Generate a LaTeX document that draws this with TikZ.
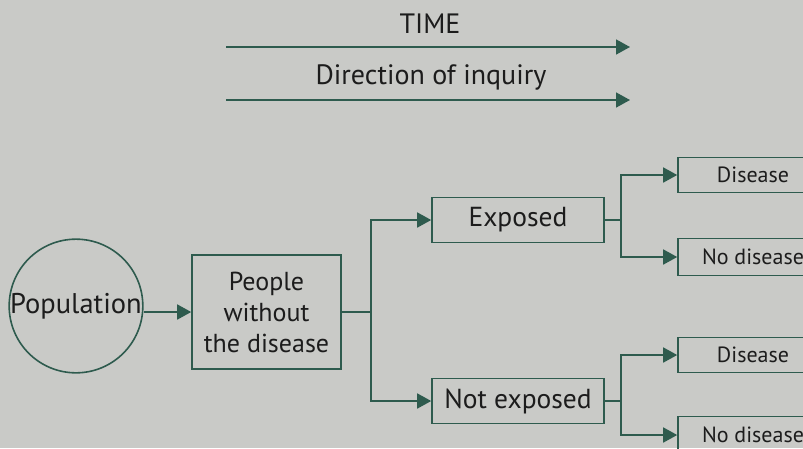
\documentclass[tikz,border=0pt]{standalone}
\usepackage{fontspec}
\setmainfont{PT Sans}
\usetikzlibrary{arrows.meta}
\definecolor{paper}{HTML}{C9CAC7}
\definecolor{ink}{HTML}{2E5B4E}
\definecolor{txt}{HTML}{1C1C1C}

\begin{document}
\begin{tikzpicture}[x=1pt,y=-1pt,
  line/.style={ink, line width=1.6pt},
  arr/.style={line, -{Triangle[length=14pt,width=15pt]}},
  box/.style={draw=ink, line width=1.6pt, rectangle, inner sep=0pt, text=txt,
    font=\fontsize{27.5}{31}\selectfont},
  outbox/.style={box, minimum width=150pt, font=\fontsize{22}{26}\selectfont},
  lbl/.style={text=txt, font=\fontsize{28}{32}\selectfont}]

% -----------------------------
% Page
% -----------------------------
\fill[paper] (0,0) rectangle (803,448);
\clip (0,0) rectangle (803,448);

% -----------------------------
% Time and inquiry arrows
% -----------------------------
\node[lbl] (time) at (430,24) {TIME};
\coordinate (t1) at (226,47);
\coordinate (t2) at (630,47);
\draw[arr] (t1) -- (t2);
\node[lbl] (inq) at (431,77) {Direction of inquiry};
\coordinate (d1) at (226,100);
\coordinate (d2) at (630,100);
\draw[arr] (d1) -- (d2);

% -----------------------------
% Population and cohort
% -----------------------------
\node[draw=ink, line width=1.6pt, circle, minimum size=132pt, inner sep=0pt,
  text=txt, font=\fontsize{28.5}{32}\selectfont] (pop) at (76,306) {Population};
\node[box, minimum width=149pt, minimum height=114pt, align=center,
  font=\fontsize{26}{31}\selectfont]
  (people) at (266.5,312) {People\\without\\the disease};
\draw[arr] (pop.east |- people.west) -- (people.west);

% -----------------------------
% Exposure groups
% -----------------------------
\node[box, minimum width=172pt, minimum height=45pt] (exp) at (518,220) {Exposed};
\node[box, minimum width=172pt, minimum height=45pt] (nexp) at (518,401) {Not exposed};
\draw[line] (people.east) -- ++(29,0) coordinate (s1);
\draw[arr] (s1) |- (exp.west);
\draw[arr] (s1) |- (nexp.west);

% -----------------------------
% Outcomes
% -----------------------------
\node[outbox, minimum height=35pt] (dis1) at (753,175) {Disease};
\node[outbox, minimum height=37pt] (nod1) at (753,257) {No disease};
\node[outbox, minimum height=35pt] (dis2) at (753,355) {Disease};
\node[outbox, minimum height=37pt] (nod2) at (753,435) {No disease};
\draw[line] (exp.east) -- ++(16,0) coordinate (s2);
\draw[arr] (s2) |- (dis1.west);
\draw[arr] (s2) |- (nod1.west);
\draw[line] (nexp.east) -- ++(16,0) coordinate (s3);
\draw[arr] (s3) |- (dis2.west);
\draw[arr] (s3) |- (nod2.west);

\end{tikzpicture}
\end{document}
